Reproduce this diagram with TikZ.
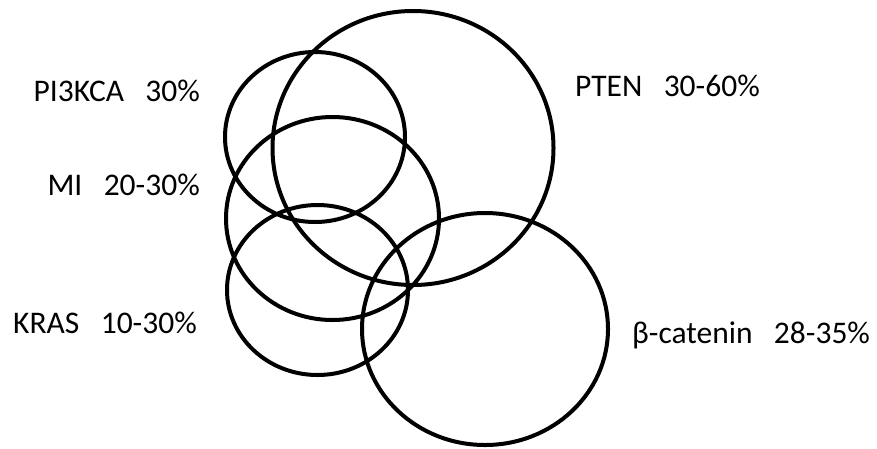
\documentclass[tikz,border=0pt]{standalone}
\usepackage{fontspec}
\setmainfont{Carlito}
\begin{document}
\begin{tikzpicture}[x=1pt,y=-1pt,
  ring/.style={draw=black,line width=4pt},
  lab/.style={inner sep=0pt,font=\fontsize{31.5}{36}\selectfont,text=black}]
\useasboundingbox (0,0) rectangle (877,448);
\draw[ring] (413,148) ellipse [x radius=140.5pt, y radius=137pt];
\draw[ring] (315,137) ellipse [x radius=90pt, y radius=85pt];
\draw[ring] (332.5,218.5) ellipse [x radius=106.5pt, y radius=101.5pt];
\draw[ring] (317.5,290) ellipse [x radius=90.5pt, y radius=85pt];
\draw[ring] (485,329) ellipse [x radius=123pt, y radius=116pt];
\node[lab,anchor=base east] (pik) at (200,101) {PI3KCA~~~30\%};
\node[lab,anchor=base east] (mi) at (200,195) {MI~~~20-30\%};
\node[lab,anchor=base east] (kras) at (197,333) {KRAS~~~10-30\%};
\node[lab,anchor=base west] (pten) at (575,96) {PTEN~~~30-60\%};
\node[lab,anchor=base west] (bcat) at (632,343) {β-catenin~~~28-35\%};
\end{tikzpicture}
\end{document}
